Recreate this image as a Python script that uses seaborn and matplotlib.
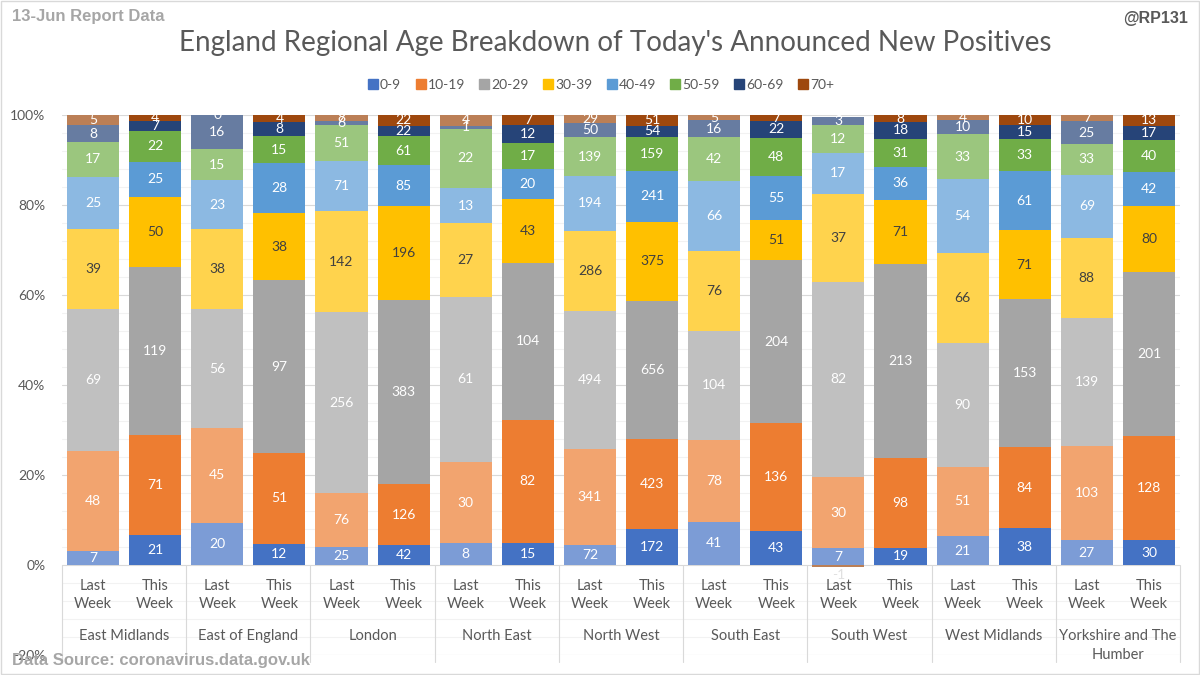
import numpy as np
import pandas as pd
import seaborn as sns
import matplotlib.pyplot as plt
from matplotlib.colors import to_rgb
from matplotlib.lines import Line2D
from matplotlib.patches import Rectangle

# -------------------------------
# Data
# -------------------------------
regions = ["East Midlands", "East of England", "London", "North East", "North West",
           "South East", "South West", "West Midlands", "Yorkshire and The\nHumber"]
weeks = ["Last\nWeek", "This\nWeek"]
age_bands = ["0-9", "10-19", "20-29", "30-39", "40-49", "50-59", "60-69", "70+"]

# one value per bar: region by region, Last Week then This Week
age_0_9 = [7, 21, 20, 12, 25, 42, 8, 15, 72, 172, 41, 43, 7, 19, 21, 38, 27, 30]
age_10_19 = [48, 71, 45, 51, 76, 126, 30, 82, 341, 423, 78, 136, 30, 98, 51, 84, 103, 128]
age_20_29 = [69, 119, 56, 97, 256, 383, 61, 104, 494, 656, 104, 204, 82, 213, 90, 153, 139, 201]
age_30_39 = [39, 50, 38, 38, 142, 196, 27, 43, 286, 375, 76, 51, 37, 71, 66, 71, 88, 80]
age_40_49 = [25, 25, 23, 28, 71, 85, 13, 20, 194, 241, 66, 55, 17, 36, 54, 61, 69, 42]
age_50_59 = [17, 22, 15, 15, 51, 61, 22, 17, 139, 159, 42, 48, 12, 31, 33, 33, 33, 40]
age_60_69 = [8, 7, 16, 8, 6, 22, 1, 12, 50, 54, 16, 22, 3, 18, 10, 15, 25, 17]
age_70_plus = [5, 4, 0, 4, 8, 22, 4, 7, 29, 51, 5, 7, -1, 8, 4, 10, 7, 13]

series = [age_0_9, age_10_19, age_20_29, age_30_39, age_40_49, age_50_59, age_60_69, age_70_plus]
colors = ["#4472C4", "#ED7D31", "#A5A5A5", "#FFC000", "#5B9BD5", "#70AD47", "#264478", "#9E480E"]
label_colors = ["white", "white", "white", "#404040", "white", "white", "white", "white"]

GREY = "#595959"
BOLD_FONT = ["Liberation Sans", "DejaVu Sans"]


def lighten(c, alpha=0.7):
    r, g, b = to_rgb(c)
    return (r * alpha + 1 - alpha, g * alpha + 1 - alpha, b * alpha + 1 - alpha)


# -------------------------------
# Figure
# -------------------------------
sns.set_theme(style="white")
plt.rcParams["font.family"] = ["Lato", "DejaVu Sans"]

fig = plt.figure(figsize=(12, 6.75), dpi=100)
ax = fig.add_axes([62 / 1200, 20 / 675, 1118 / 1200, 540 / 675])

bar_ids = [f"{r}|{w}" for r in regions for w in weeks]
vals = np.array(series, dtype=float)
totals = np.abs(vals).sum(axis=0)
pcts = vals / totals * 100

bottom = np.zeros(len(bar_ids))
for k, band in enumerate(age_bands):
    pos = np.where(pcts[k] > 0, pcts[k], 0)
    df = pd.DataFrame({"bar": bar_ids, "pct": pos})
    sns.barplot(data=df, x="bar", y="pct", order=bar_ids, bottom=bottom.copy(),
                width=0.84, color=colors[k], saturation=1, errorbar=None,
                linewidth=0, ax=ax)
    for i, p in enumerate(ax.containers[-1]):
        p.set_facecolor(lighten(colors[k]) if i % 2 == 0 else colors[k])
    for i, v in enumerate(series[k]):
        if v >= 0:
            ax.text(i, bottom[i] + pos[i] / 2, str(v), ha="center", va="center",
                    fontsize=10, color=label_colors[k], zorder=5)
    bottom = bottom + pos

# negative values stack below zero
for k, band in enumerate(age_bands):
    neg = np.where(pcts[k] < 0, pcts[k], 0)
    if not neg.any():
        continue
    df = pd.DataFrame({"bar": bar_ids, "pct": neg})
    sns.barplot(data=df, x="bar", y="pct", order=bar_ids, width=0.84,
                color=colors[k], saturation=1, errorbar=None, linewidth=0, ax=ax)
    for i, p in enumerate(ax.containers[-1]):
        p.set_facecolor(lighten(colors[k]) if i % 2 == 0 else colors[k])
    for i, v in enumerate(series[k]):
        if v < 0:
            ax.text(i, neg[i] - 1.6, str(v), ha="center", va="center",
                    fontsize=10, color="#E0E0E0", zorder=5)

# axes styling
ax.set_xlim(-0.5, len(bar_ids) - 0.5)
ax.set_ylim(-20, 100)
ax.set_yticks(np.arange(-20, 101, 20))
ax.set_yticklabels([f"{t}%" for t in range(-20, 101, 20)])
ax.set_yticks(np.arange(-20, 101, 4), minor=True)
ax.yaxis.grid(True, which="major", color="#D9D9D9", linewidth=0.8)
ax.yaxis.grid(True, which="minor", color="#F2F2F2", linewidth=0.8)
ax.set_axisbelow(True)
ax.set_xticks([])
ax.set_xlabel("")
ax.set_ylabel("")
ax.tick_params(axis="y", which="both", length=0, labelsize=10, labelcolor=GREY, pad=12)
for s in ax.spines.values():
    s.set_visible(False)

# multi-level category labels inside the lower band
for i, b in enumerate(bar_ids):
    ax.text(i, -6.7, weeks[i % 2], ha="center", va="center", fontsize=10.5,
            color=GREY, linespacing=1.4)
for j, r in enumerate(regions):
    ax.text(2 * j + 0.5, -14.3, r, ha="center", va="top", fontsize=10.5,
            color=GREY, linespacing=1.4)
for j in range(len(regions) + 1):
    ax.plot([2 * j - 0.5, 2 * j - 0.5], [0, -21.5], color="#D9D9D9",
            linewidth=0.8, clip_on=False)

# legend
handles = [Line2D([], [], marker="s", linestyle="", markersize=7, color=c) for c in colors]
fig.legend(handles, age_bands, loc="center", bbox_to_anchor=(600 / 1200, 1 - 85 / 675),
           ncol=8, frameon=False, fontsize=10, handletextpad=0.0,
           columnspacing=0.9, handlelength=1.0, labelcolor=GREY)

# titles and notes
fig.text(615 / 1200, 1 - 43 / 675, "England Regional Age Breakdown of Today's Announced New Positives",
         ha="center", va="center", fontsize=20, color=GREY)
fig.text(12 / 1200, 1 - 16 / 675, "13-Jun Report Data", ha="left", va="center",
         fontsize=12, fontweight="bold", color="#A6A6A6", family=BOLD_FONT)
fig.text(1188 / 1200, 1 - 18 / 675, "@RP131", ha="right", va="center",
         fontsize=11.5, fontweight="bold", color=GREY, family=BOLD_FONT)
fig.text(12 / 1200, 1 - 660 / 675, "Data Source: coronavirus.data.gov.uk", ha="left",
         va="center", fontsize=12, fontweight="bold", color="#A6A6A6", family=BOLD_FONT)

fig.patches.append(Rectangle((0.001, 0.001), 0.998, 0.998, transform=fig.transFigure,
                             fill=False, edgecolor="#D9D9D9", linewidth=1))

fig.savefig("out.png", dpi=100)
